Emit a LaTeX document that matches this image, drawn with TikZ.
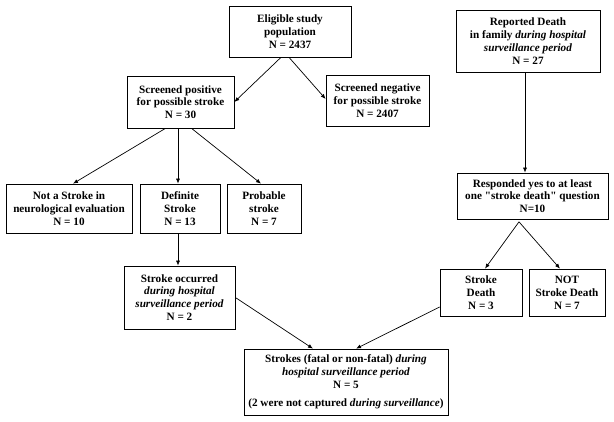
\documentclass[tikz,border=0pt]{standalone}
\usepackage{fontspec}
\setmainfont{Liberation Serif}
\usetikzlibrary{arrows.meta,calc}

\begin{document}
\begin{tikzpicture}[x=1pt, y=-1pt,
	box/.style={draw, line width=0.7pt, align=center, inner sep=0pt, font=\fontsize{11.2}{12.8}\selectfont\bfseries},
	arr/.style={line width=0.7pt, -{Latex[length=5pt,width=4pt]}}]
	\useasboundingbox (0,0) rectangle (614,422);
	\node[box, minimum width=122, minimum height=51] (elig) at (290, 31.5) {Eligible study\\population\\N = 2437};
	\node[box, minimum width=107, minimum height=52] (pos) at (180.5, 102) {Screened positive\\for possible stroke\\N = 30};
	\node[box, minimum width=103, minimum height=51] (neg) at (377.5, 100.5) {Screened negative\\for possible stroke\\N = 2407};
	\node[box, minimum width=144, minimum height=62] (rep) at (528, 41) {Reported Death\\in family \textit{during hospital}\\\textit{surveillance period}\\N = 27};
	\node[box, minimum width=126, minimum height=49] (nots) at (69, 208.5) {Not a Stroke in\\neurological evaluation\\N = 10};
	\node[box, minimum width=80, minimum height=49] (def) at (180, 208.5) {Definite\\Stroke\\N = 13};
	\node[box, minimum width=74, minimum height=49] (prob) at (264, 208.5) {Probable\\stroke\\N = 7};
	\node[box, minimum width=111, minimum height=63] (occ) at (179.5, 297.5) {Stroke occurred\\\textit{during hospital}\\\textit{surveillance period}\\N = 2};
	\node[box, minimum width=151, minimum height=46] (resp) at (532.5, 196) {Responded yes to at least\\one \textquotedbl stroke death\textquotedbl{} question\\N=10};
	\node[box, minimum width=82, minimum height=47] (sd) at (481, 292.5) {Stroke\\Death\\N = 3};
	\node[box, minimum width=76, minimum height=47] (nsd) at (567, 292.5) {NOT\\Stroke Death\\N = 7};
	\node[box, minimum width=204, minimum height=66] (fin) at (346, 382) {Strokes (fatal or non-fatal) \textit{during}\\\textit{hospital surveillance period}\\N = 5\\[6pt](2 were not captured \textit{during surveillance})};
	\coordinate (split) at ($(resp.south)+(-13.5,2.5)$);
	\draw[arr] ($(elig.south)+(-9,0)$) -- (pos.east);
	\draw[arr] ($(elig.south)+(-1,0)$) -- ($(neg.west)+(0,-1.5)$);
	\draw[arr] ($(pos.south)+(-15,0)$) -- ($(nots.north)+(4,0)$);
	\draw[arr] ($(pos.south)+(-2.5,0)$) -- ($(def.north)+(-2,0)$);
	\draw[arr] ($(pos.south)+(11,0)$) -- ($(prob.north)+(-3,0)$);
	\draw[arr] ($(def.south)+(-2,0)$) -- ($(occ.north)+(-1.5,0)$);
	\draw[arr] (occ.east) -- ($(fin.north)+(-33,0)$);
	\draw[arr] ($(sd.west)+(0,14.5)$) -- ($(fin.north)+(10,0)$);
	\draw[arr] ($(rep.south)+(-3,0)$) -- ($(resp.north)+(-7.5,0)$);
	\draw[arr] (split) -- ($(sd.north)+(4,0)$);
	\draw[arr] (split) -- ($(nsd.north)+(-7,0)$);
\end{tikzpicture}
\end{document}
